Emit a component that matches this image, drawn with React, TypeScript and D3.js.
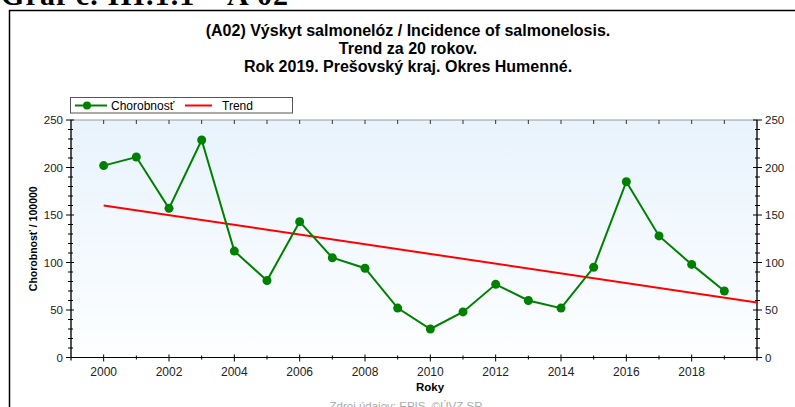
import * as d3 from "d3";

// chart data
const years = [2000, 2001, 2002, 2003, 2004, 2005, 2006, 2007, 2008, 2009, 2010, 2011, 2012, 2013, 2014, 2015, 2016, 2017, 2018, 2019];
const incidence = [202, 211, 157, 229, 112, 81, 143, 105, 94, 52, 30, 48, 77, 60, 52, 95, 185, 128, 98, 70];
const trendYears = [2000, 2020];
const trendValues = [160, 58];
const xTickLabels = [2000, 2002, 2004, 2006, 2008, 2010, 2012, 2014, 2016, 2018];
const yTickLabels = [0, 50, 100, 150, 200, 250];

const titleLines = [
  "(A02) Výskyt salmonelóz / Incidence of salmonelosis.",
  "Trend za 20 rokov.",
  "Rok 2019. Prešovský kraj. Okres Humenné.",
];

const W = 795;
const H = 407;
const plotLeft = 71;
const plotRight = 757;
const plotTop = 120;
const plotBottom = 357.5;

const font = "Arial, 'Liberation Sans', sans-serif";

export default function App() {
  const x = d3.scaleLinear().domain([1999, 2020]).range([plotLeft, plotRight]);
  const y = d3.scaleLinear().domain([0, 250]).range([plotBottom, plotTop]);

  const line = d3
    .line<number>()
    .x((_, i) => x(years[i]))
    .y((d) => y(d));

  const trend = d3
    .line<number>()
    .x((_, i) => x(trendYears[i]))
    .y((d) => y(d));

  const minorY = d3.range(0, 251, 10);
  const minorX = d3.range(1999, 2021, 1);

  return (
    <svg
      width={W}
      height={H}
      style={{ position: "absolute", left: 0, top: 0, background: "#fff" }}
    >
      <defs>
        <linearGradient id="bg" x1="0" y1="0" x2="0" y2="1">
          <stop offset="0%" stopColor="#e8f3fd" />
          <stop offset="100%" stopColor="#fdfeff" />
        </linearGradient>
        <clipPath id="plotClip">
          <rect x={plotLeft} y={plotTop} width={plotRight - plotLeft} height={plotBottom - plotTop} />
        </clipPath>
      </defs>

      {/* heading, cut off at top */}
      <text x={1} y={5} fontFamily="'Liberation Serif', 'Times New Roman', serif" fontWeight="bold" fontSize={30} textLength={287} fill="#000">
        Graf č. III.1.1 – A 02
      </text>

      {/* outer frame */}
      <rect x={9.5} y={10.5} width={820} height={500} fill="none" stroke="#000" strokeWidth={1.5} />

      {/* title */}
      {titleLines.map((t, i) => (
        <text key={i} x={408} y={36 + i * 18} textAnchor="middle" fontFamily={font} fontWeight="bold" fontSize={16} fill="#000">
          {t}
        </text>
      ))}

      {/* legend */}
      <g>
        <rect x={70.5} y={97.5} width={222} height={15.5} fill="#fff" stroke="#555" strokeWidth={1} />
        <line x1={75} x2={107} y1={105.5} y2={105.5} stroke="#008000" strokeWidth={2} />
        <circle cx={87} cy={105.5} r={4} fill="#008000" />
        <text x={111} y={110} fontFamily={font} fontSize={12} fill="#000">Chorobnosť</text>
        <line x1={185} x2={212} y1={105.5} y2={105.5} stroke="#ff0000" strokeWidth={2} />
        <text x={222} y={110} fontFamily={font} fontSize={12} fill="#000">Trend</text>
      </g>

      {/* plot background */}
      <rect x={plotLeft} y={plotTop} width={plotRight - plotLeft} height={plotBottom - plotTop} fill="url(#bg)" stroke="#999" strokeWidth={1} />

      {/* top ticks */}
      {minorX.slice(1, -1).map((yr) => (
        <line key={"tt" + yr} x1={x(yr)} x2={x(yr)} y1={plotTop} y2={plotTop + 4} stroke="#333" strokeWidth={1} />
      ))}

      {/* left & right axes */}
      <line x1={plotLeft} x2={plotLeft} y1={plotTop} y2={plotBottom + 3} stroke="#000" strokeWidth={1.2} />
      <line x1={plotRight} x2={plotRight} y1={plotTop} y2={plotBottom + 3} stroke="#000" strokeWidth={1.2} />
      {minorY.map((v) => {
        const major = v % 50 === 0;
        return (
          <g key={"yt" + v}>
            <line x1={plotLeft - (major ? 5 : 3)} x2={plotLeft + (major ? 3 : 2)} y1={y(v)} y2={y(v)} stroke="#000" strokeWidth={1} />
            <line x1={plotRight - (major ? 4 : 2)} x2={plotRight + (major ? 5 : 3)} y1={y(v)} y2={y(v)} stroke="#000" strokeWidth={1} />
          </g>
        );
      })}
      {yTickLabels.map((v) => (
        <g key={"yl" + v}>
          <text x={63} y={y(v) + 4} textAnchor="end" fontFamily={font} fontSize={11.5} fill="#222">{v}</text>
          <text x={765} y={y(v) + 4} textAnchor="start" fontFamily={font} fontSize={11.5} fill="#222">{v}</text>
        </g>
      ))}

      {/* bottom axis */}
      <line x1={plotLeft - 3} x2={plotRight + 1} y1={plotBottom} y2={plotBottom} stroke="#000" strokeWidth={1.2} />
      {minorX.slice(1, -1).map((yr) => {
        const major = yr % 2 === 0;
        return (
          <line key={"xt" + yr} x1={x(yr)} x2={x(yr)} y1={plotBottom - (major ? 3 : 2)} y2={plotBottom + (major ? 4 : 2)} stroke="#000" strokeWidth={1} />
        );
      })}
      {xTickLabels.map((yr) => (
        <text key={"xl" + yr} x={x(yr)} y={376} textAnchor="middle" fontFamily={font} fontSize={12} fill="#222">{yr}</text>
      ))}

      {/* axis titles */}
      <text x={430} y={391} textAnchor="middle" fontFamily={font} fontWeight="bold" fontSize={11.5} fill="#000">Roky</text>
      <text transform={`translate(37,${(plotTop + plotBottom) / 2}) rotate(-90)`} textAnchor="middle" fontFamily={font} fontWeight="bold" fontSize={10.5} fill="#000">
        Chorobnosť / 100000
      </text>

      {/* series */}
      <g clipPath="url(#plotClip)">
        <path d={trend(trendValues) ?? ""} fill="none" stroke="#ff0000" strokeWidth={2} />
      </g>
      <path d={line(incidence) ?? ""} fill="none" stroke="#008000" strokeWidth={2} />
      {incidence.map((v, i) => (
        <circle key={"p" + i} cx={x(years[i])} cy={y(v)} r={4.5} fill="#008000" />
      ))}

      {/* source, cut off at bottom */}
      <text x={406} y={410} textAnchor="middle" fontFamily={font} fontSize={11.5} fill="#aaa">Zdroj údajov: EPIS, ©ÚVZ SR</text>
    </svg>
  );
}
